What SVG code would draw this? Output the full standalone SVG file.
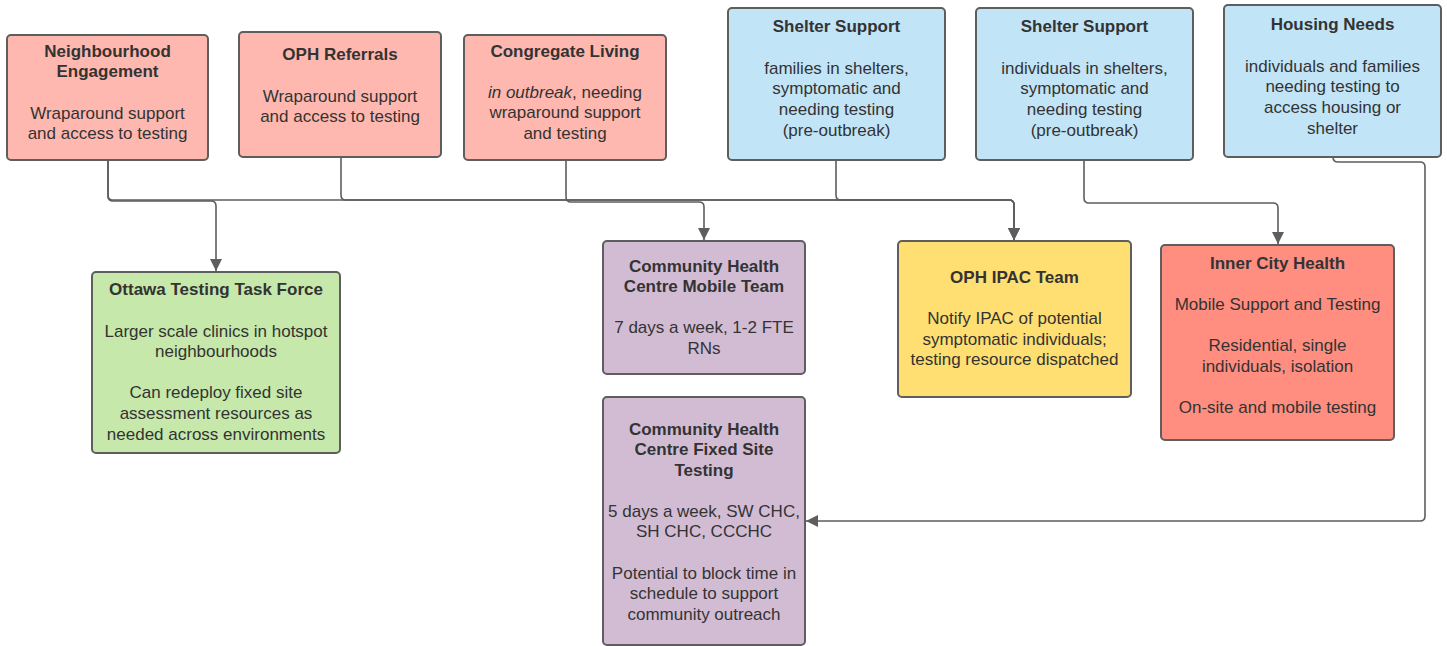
<svg xmlns="http://www.w3.org/2000/svg" width="1447" height="646" viewBox="0 0 1447 646">
<style>
.box{stroke:#5E5E5E;stroke-width:2}
.pink{fill:#FFB8B0}
.blue{fill:#C2E4F7}
.green{fill:#C6E8AA}
.purple{fill:#D2BCD3}
.yellow{fill:#FFDF71}
.red{fill:#FF8E80}
text{font-family:"Liberation Sans",Arial,sans-serif;font-size:17px;fill:#333333;text-anchor:middle}
.t{font-weight:bold}
.c{fill:none;stroke:#5E5E5E;stroke-width:1.6}
</style>
<defs>
<marker id="arr" markerUnits="userSpaceOnUse" markerWidth="12" markerHeight="14" viewBox="0 0 12 14" refX="12" refY="7" orient="auto">
<path d="M0,1 L12,7 L0,13 Z" fill="#5E5E5E"/>
</marker>
</defs>
<rect width="1447" height="646" fill="#FFFFFF"/>

<g id="connectors">
<path class="c" d="M108,147 V196 Q108,201 113,201 H211 Q216,201 216,206 V271" marker-end="url(#arr)"/>
<path class="c" d="M108,147 V195 Q108,200 113,200 H1009 Q1014,200 1014,205 V240" marker-end="url(#arr)"/>
<path class="c" d="M341,157 V195 Q341,200 346,200 H1009 Q1014,200 1014,205 V240" marker-end="url(#arr)"/>
<path class="c" d="M566,147 V197 Q566,202 571,202 H699 Q704,202 704,207 V240" marker-end="url(#arr)"/>
<path class="c" d="M836,160 V195 Q836,200 841,200 H1009 Q1014,200 1014,205 V240" marker-end="url(#arr)"/>
<path class="c" d="M1084,160 V198 Q1084,203 1089,203 H1273 Q1278,203 1278,208 V244" marker-end="url(#arr)"/>
<path class="c" d="M1333,145 V157 Q1333,162 1338,162 H1420 Q1425,162 1425,167 V516 Q1425,521 1420,521 H806" marker-end="url(#arr)"/>
</g>

<g id="neighbourhood-engagement">
<rect class="box pink" x="7" y="35" width="201" height="125" rx="4"/>
<text class="t" x="107.5" y="57">Neighbourhood</text>
<text class="t" x="107.5" y="77">Engagement</text>
<text x="107.5" y="119">Wraparound support</text>
<text x="107.5" y="139">and access to testing</text>
</g>

<g id="oph-referrals">
<rect class="box pink" x="239" y="32" width="202" height="125" rx="4"/>
<text class="t" x="340" y="60">OPH Referrals</text>
<text x="340" y="102">Wraparound support</text>
<text x="340" y="122">and access to testing</text>
</g>

<g id="congregate-living">
<rect class="box pink" x="464" y="35" width="202" height="125" rx="4"/>
<text class="t" x="565" y="57">Congregate Living</text>
<text x="565" y="98"><tspan font-style="italic">in outbreak</tspan>, needing</text>
<text x="565" y="118">wraparound support</text>
<text x="565" y="139">and testing</text>
</g>

<g id="shelter-support-families">
<rect class="box blue" x="728" y="8" width="217" height="152" rx="4"/>
<text class="t" x="836.5" y="32">Shelter Support</text>
<text x="836.5" y="74">families in shelters,</text>
<text x="836.5" y="94">symptomatic and</text>
<text x="836.5" y="115">needing testing</text>
<text x="836.5" y="136">(pre-outbreak)</text>
</g>

<g id="shelter-support-individuals">
<rect class="box blue" x="976" y="8" width="217" height="152" rx="4"/>
<text class="t" x="1084.5" y="32">Shelter Support</text>
<text x="1084.5" y="74">individuals in shelters,</text>
<text x="1084.5" y="94">symptomatic and</text>
<text x="1084.5" y="115">needing testing</text>
<text x="1084.5" y="136">(pre-outbreak)</text>
</g>

<g id="housing-needs">
<rect class="box blue" x="1224" y="5" width="217" height="152" rx="4"/>
<text class="t" x="1332.5" y="30">Housing Needs</text>
<text x="1332.5" y="72">individuals and families</text>
<text x="1332.5" y="92">needing testing to</text>
<text x="1332.5" y="113">access housing or</text>
<text x="1332.5" y="134">shelter</text>
</g>

<g id="ottawa-testing-task-force">
<rect class="box green" x="92" y="272" width="248" height="181" rx="4"/>
<text class="t" x="216" y="295">Ottawa Testing Task Force</text>
<text x="216" y="337">Larger scale clinics in hotspot</text>
<text x="216" y="357">neighbourhoods</text>
<text x="216" y="398">Can redeploy fixed site</text>
<text x="216" y="419">assessment resources as</text>
<text x="216" y="440">needed across environments</text>
</g>

<g id="chc-mobile-team">
<rect class="box purple" x="603" y="241" width="202" height="133" rx="4"/>
<text class="t" x="704" y="272">Community Health</text>
<text class="t" x="704" y="292">Centre Mobile Team</text>
<text x="704" y="333">7 days a week, 1-2 FTE</text>
<text x="704" y="354">RNs</text>
</g>

<g id="oph-ipac-team">
<rect class="box yellow" x="898" y="241" width="233" height="156" rx="4"/>
<text class="t" x="1014.5" y="283">OPH IPAC Team</text>
<text x="1014.5" y="324">Notify IPAC of potential</text>
<text x="1014.5" y="345">symptomatic individuals;</text>
<text x="1014.5" y="365">testing resource dispatched</text>
</g>

<g id="inner-city-health">
<rect class="box red" x="1161" y="245" width="233" height="195" rx="4"/>
<text class="t" x="1277.5" y="269">Inner City Health</text>
<text x="1277.5" y="310">Mobile Support and Testing</text>
<text x="1277.5" y="351">Residential, single</text>
<text x="1277.5" y="372">individuals, isolation</text>
<text x="1277.5" y="413">On-site and mobile testing</text>
</g>

<g id="chc-fixed-site-testing">
<rect class="box purple" x="603" y="397" width="202" height="248" rx="4"/>
<text class="t" x="704" y="435">Community Health</text>
<text class="t" x="704" y="455">Centre Fixed Site</text>
<text class="t" x="704" y="476">Testing</text>
<text x="704" y="517">5 days a week, SW CHC,</text>
<text x="704" y="537">SH CHC, CCCHC</text>
<text x="704" y="579">Potential to block time in</text>
<text x="704" y="599">schedule to support</text>
<text x="704" y="620">community outreach</text>
</g>
</svg>
